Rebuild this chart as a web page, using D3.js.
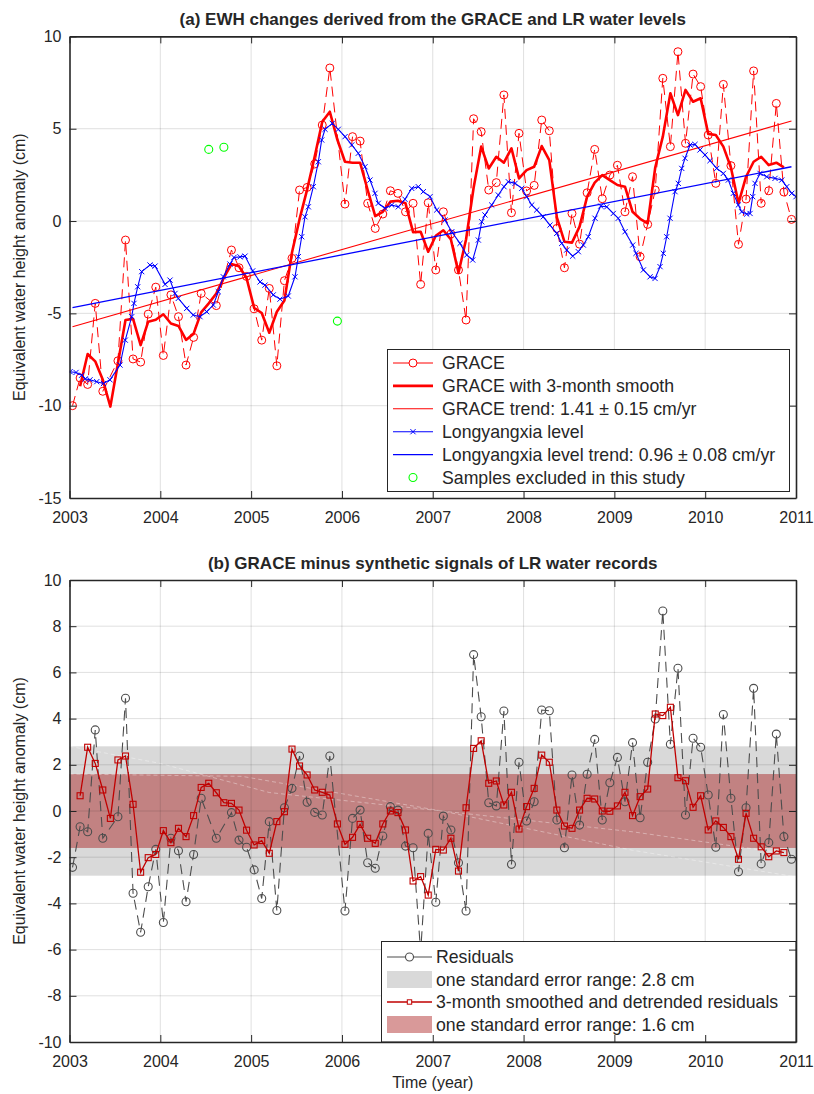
<!DOCTYPE html>
<html>
<head>
<meta charset="utf-8">
<script src="https://cdn.jsdelivr.net/npm/d3@7"></script>
<style>
  body { margin: 0; background: #fff; }
  svg text { font-family: "Liberation Sans", Arial, Helvetica, sans-serif; fill: #262626; }
</style>
</head>
<body>
<svg id="fig" width="814" height="1094"></svg>
<script>
// ---------- data ----------
const yearTicks = [2003, 2004, 2005, 2006, 2007, 2008, 2009, 2010, 2011];
const ewhTicks = [-15, -10, -5, 0, 5, 10];
const residTicks = [-10, -8, -6, -4, -2, 0, 2, 4, 6, 8, 10];

// monthly GRACE EWH (cm), month index counted from Jan 2003
const graceMonth = [0,1,2,3,4,6,7,8,9,10,11,12,13,14,15,16,17,19,21,22,23,24,25,26,27,28,29,30,31,32,33,34,
  36,37,38,39,40,41,42,43,44,45,46,47,48,49,50,51,52,53,54,55,56,57,58,59,60,61,62,63,64,65,66,67,68,69,70,71,
  72,73,74,75,76,77,78,79,80,81,82,83,84,85,86,87,88,89,90,91,92,93,94,95];
const graceEWH = [-10.0,-8.5,-8.85,-4.46,-9.22,-7.57,-1.03,-7.47,-7.64,-5.04,-3.58,-7.28,-4.0,-5.18,-7.8,-6.3,-3.92,-4.58,
  -1.57,-2.53,-3.0,-4.75,-6.45,-3.65,-7.84,-3.23,-2.02,1.68,1.82,3.09,5.2,8.29,
  0.92,4.57,4.33,0.96,-0.4,0.38,1.64,1.5,0.5,0.96,-3.43,0.99,-2.65,0.5,-0.7,-2.65,-5.36,5.54,4.84,1.68,2.08,6.83,
  0.45,4.75,1.63,1.93,5.47,4.89,-0.4,-2.53,0.41,-1.25,1.53,3.88,1.21,2.49,
  3.02,0.5,2.4,-1.93,-0.18,1.68,7.73,4.03,9.17,4.21,7.96,7.28,4.66,2.04,7.4,3.0,-1.26,1.19,8.13,0.96,1.64,6.37,1.57,0.09];

// GRACE with 3-month smoothing, months 1..94
const smoothMonth = d3.range(1, 95);
const smoothEWH = [-8.95,-7.2,-7.6,-8.6,-10.05,-7.7,-5.36,-5.3,-6.72,-5.45,-5.35,-5.05,-5.55,-5.68,-6.44,-6.1,-4.95,-4.46,
  -3.92,-3.07,-2.33,-2.45,-3.1,-4.7,-4.98,-6.05,-4.91,-4.3,-1.7,0.1,1.7,3.5,5.38,5.92,4.4,3.21,3.16,3.16,1.68,0.27,
  0.5,1.05,1.1,0.96,-0.6,-0.58,-1.66,-0.8,-0.5,-1.0,-2.8,-1.0,1.8,4.03,2.85,3.48,3.16,3.94,2.31,2.76,2.94,4.06,3.3,
  0.2,-1.12,-1.17,-0.3,1.32,2.08,2.49,2.22,1.95,1.86,0.5,0.12,-0.13,2.9,4.57,6.92,5.74,7.1,6.46,6.65,4.72,4.66,4.03,
  2.9,0.96,2.4,3.21,3.48,3.03,3.16,2.91];

// GRACE months left out of the study
const excludedMonth = [18, 20, 35];
const excludedEWH = [3.88, 4.0, -5.42];

// linear trends (start/end of the GRACE period)
const trendYears = [2003.033, 2010.95];
const graceTrend = [-5.72, 5.42];
const lyxTrend = [-4.69, 2.94];

// Longyangxia reservoir level expressed as EWH (cm)
const lyxYear = [2003.006,2003.072,2003.134,2003.174,2003.226,2003.3,2003.374,2003.446,2003.556,2003.614,2003.685,2003.71,
  2003.751,2003.795,2003.886,2003.942,2004.052,2004.107,2004.162,2004.198,2004.291,2004.363,2004.437,2004.511,2004.584,
  2004.639,2004.694,2004.767,2004.811,2004.878,2004.933,2005.017,2005.098,2005.153,2005.244,2005.318,2005.409,2005.483,
  2005.52,2005.557,2005.593,2005.63,2005.685,2005.74,2005.777,2005.814,2005.894,2005.96,2006.034,2006.108,2006.18,
  2006.254,2006.309,2006.364,2006.4,2006.474,2006.548,2006.621,2006.694,2006.768,2006.841,2006.896,2006.97,2007.044,
  2007.135,2007.209,2007.3,2007.374,2007.44,2007.502,2007.539,2007.575,2007.649,2007.722,2007.785,2007.832,2007.906,
  2007.98,2008.035,2008.09,2008.145,2008.217,2008.291,2008.365,2008.42,2008.475,2008.541,2008.603,2008.658,2008.713,
  2008.787,2008.85,2008.916,2008.988,2009.043,2009.117,2009.202,2009.238,2009.319,2009.393,2009.448,2009.503,2009.539,
  2009.576,2009.613,2009.668,2009.704,2009.742,2009.778,2009.833,2009.888,2009.943,2009.998,2010.053,2010.127,2010.2,
  2010.255,2010.31,2010.365,2010.402,2010.457,2010.494,2010.523,2010.549,2010.604,2010.678,2010.769,2010.843,2010.898,
  2010.953,2011.0];
const lyxLevel = [-8.16,-8.2,-8.35,-8.55,-8.6,-8.7,-8.8,-8.6,-7.8,-6.45,-5.18,-4.46,
  -3.56,-2.74,-2.38,-2.44,-3.43,-3.2,-3.92,-4.19,-4.73,-5.09,-5.18,-4.91,-4.55,
  -3.83,-3.02,-2.33,-1.97,-1.94,-1.9,-2.7,-3.3,-3.47,-4.0,-4.23,-4.06,-3.02,
  -1.93,-0.85,0.23,0.77,1.86,3.21,4.39,4.97,5.29,4.97,4.57,4.12,3.67,
  2.94,2.22,1.5,0.96,0.69,0.87,0.77,1.18,1.77,1.86,1.59,1.32,0.6,
  0.05,-0.58,-1.21,-1.84,-2.11,-1.03,-0.04,0.33,0.87,1.41,1.86,2.13,2.04,
  1.77,1.32,0.87,0.6,0.23,-0.22,-0.67,-1.21,-1.57,-1.9,-1.66,-1.3,-0.85,
  0.15,0.81,0.77,0.41,0.15,-0.58,-1.3,-1.75,-2.65,-3.02,-3.11,-2.47,-1.75,
  -0.85,0.15,1.59,2.04,2.85,3.4,4.12,4.15,3.85,3.58,3.27,2.85,2.58,
  2.22,1.5,0.87,0.5,0.38,0.41,1.32,2.04,2.58,2.4,2.31,2.22,1.86,
  1.5,1.32];

// residuals: GRACE minus synthetic signal (cm)
const residMonth = [0,1,2,3,4,6,7,8,9,10,11,12,13,14,15,16,17,19,21,22,23,24,25,26,27,28,29,30,31,32,33,34,
  36,37,38,39,40,41,42,43,44,45,46,47,48,49,50,51,52,53,54,55,56,57,58,59,60,61,62,63,64,65,66,67,68,69,70,71,
  72,73,74,75,76,77,78,79,80,81,82,83,84,85,86,87,88,89,90,91,92,93,94,95];
const residual = [-2.44,-0.68,-0.9,3.51,-1.18,-0.25,4.88,-3.56,-5.25,-3.28,-1.66,-4.83,-1.18,-1.72,-3.93,-1.88,0.55,-1.18,
  -0.07,-1.26,-1.57,-2.55,-3.79,-0.46,-4.31,0.14,0.98,2.38,0.38,-0.06,-0.17,2.38,
  -4.33,-0.32,0.04,-2.24,-2.48,-1.08,0.19,0.04,-1.52,-1.59,-6.1,-0.97,-3.95,-0.22,-0.82,-2.24,-4.33,6.77,4.08,0.36,0.22,4.33,
  -2.31,2.11,-0.43,0.4,4.37,4.34,-0.39,-1.59,1.56,-0.61,1.59,3.1,-0.39,1.22,
  2.32,0.4,2.96,-0.29,2.11,3.98,8.66,2.89,6.18,-0.17,3.15,2.76,0.69,-1.57,4.18,0.55,-2.63,0.14,5.31,-2.29,-1.37,3.33,-1.11,-2.09];

// 3-month smoothed and detrended residuals, months 1..94
const detrMonth = d3.range(1, 95);
const detrResidual = [0.66,2.76,2.06,0.91,-0.32,2.21,2.38,0.29,-2.65,-2.02,-1.88,-0.85,-1.37,-0.75,-1.11,-0.2,1.02,1.2,
  0.79,0.36,0.33,0.04,-0.83,-1.47,-1.28,-1.83,-0.46,-0.03,2.68,1.95,1.56,0.91,0.81,0.69,-0.56,-1.44,-1.14,-0.58,-1.18,-1.4,
  -0.56,0.0,-0.07,-0.82,-3.03,-2.84,-3.64,-1.66,-1.69,-1.18,-2.6,0.14,2.71,3.04,1.2,1.3,0.26,0.81,-0.78,0.19,0.98,2.42,2.11,
  0.04,-0.65,-0.75,0.04,0.55,0.52,0.0,-0.01,0.22,0.81,-0.2,0.62,0.95,4.2,4.13,4.49,1.44,1.31,0.16,0.66,-0.82,-0.43,-0.71,
  -1.11,-2.09,-0.1,-1.18,-1.55,-1.98,-1.73,-1.8];

// one-standard-error ranges (cm)
const seResidual = 2.8;
const seDetrended = 1.6;

// faint pale guide traces across the error bands
const guideA = [[2003, 2.8], [2004, 2.06], [2005.2, 0.8], [2007.1, 0.0], [2009.2, -0.9], [2011, -1.9]];
const guideB = [[2003, 1.6], [2004.9, 1.5], [2007.1, 0.0], [2009.2, -1.7], [2011, -2.85]];

// ---------- layout ----------
const left = 69.5, right = 796;
const svg = d3.select('#fig');
const monthYear = m => 2003 + (m + 0.4) / 12;
const x = d3.scaleLinear().domain([2003, 2011]).range([left, right]);
const yA = d3.scaleLinear().domain([-15, 10]).range([498, 36.4]);
const yB = d3.scaleLinear().domain([-10, 10]).range([1042, 580]);

const AX = '#262626';
const zip = (a, b) => a.map((v, i) => ({ t: a[i], v: b[i] }));
const byMonth = (ms, vs) => ms.map((m, i) => ({ t: monthYear(m), v: vs[i] }));

function clip(id, y) {
  svg.append('clipPath').attr('id', id).append('rect')
    .attr('x', left).attr('y', y.range()[1])
    .attr('width', right - left).attr('height', y.range()[0] - y.range()[1]);
}
clip('clipA', yA); clip('clipB', yB);

function grid(g, y, ticks) {
  const [yb, yt] = y.range();
  g.append('g').selectAll('line').data(yearTicks.slice(1, -1)).join('line')
    .attr('x1', d => x(d)).attr('x2', d => x(d)).attr('y1', yt).attr('y2', yb)
    .attr('stroke', AX).attr('stroke-opacity', 0.14).attr('stroke-width', 1);
  g.append('g').selectAll('line').data(ticks.slice(1, -1)).join('line')
    .attr('x1', left).attr('x2', right).attr('y1', d => y(d)).attr('y2', d => y(d))
    .attr('stroke', AX).attr('stroke-opacity', 0.14).attr('stroke-width', 1);
}

function axes(g, y, ticks) {
  const [yb, yt] = y.range();
  const fmt = d => String(d);
  const gb = g.append('g').attr('transform', `translate(0,${yb})`)
    .call(d3.axisBottom(x).tickValues(yearTicks).tickFormat(fmt).tickSize(-7).tickSizeOuter(0).tickPadding(14));
  const gt = g.append('g').attr('transform', `translate(0,${yt})`)
    .call(d3.axisTop(x).tickValues(yearTicks).tickFormat('').tickSize(-7).tickSizeOuter(0));
  const gl = g.append('g').attr('transform', `translate(${left},0)`)
    .call(d3.axisLeft(y).tickValues(ticks).tickFormat(fmt).tickSize(-7).tickSizeOuter(0).tickPadding(8));
  const gr = g.append('g').attr('transform', `translate(${right},0)`)
    .call(d3.axisRight(y).tickValues(ticks).tickFormat('').tickSize(-7).tickSizeOuter(0));
  [gb, gt, gl, gr].forEach(a => {
    a.select('.domain').attr('stroke', AX).attr('stroke-width', 1.6);
    a.selectAll('.tick line').attr('stroke', AX).attr('stroke-width', 1);
    a.selectAll('.tick text').attr('fill', AX).style('font-size', '16px')
      .style('font-family', '"Liberation Sans", Arial, sans-serif');
  });
}

const xMark = 'M-2.6,-2.6L2.6,2.6M-2.6,2.6L2.6,-2.6';

// ================= panel (a) =================
const pa = svg.append('g');
grid(pa, yA, ewhTicks);
const da = pa.append('g').attr('clip-path', 'url(#clipA)');
const lineA = d3.line().x(d => x(d.t)).y(d => yA(d.v));

const grace = byMonth(graceMonth, graceEWH);
da.append('path').datum(grace).attr('d', lineA).attr('fill', 'none')
  .attr('stroke', '#ff0000').attr('stroke-width', 1).attr('stroke-dasharray', '10,6');
da.append('g').selectAll('circle').data(grace).join('circle')
  .attr('cx', d => x(d.t)).attr('cy', d => yA(d.v)).attr('r', 4)
  .attr('fill', 'none').attr('stroke', '#ff0000').attr('stroke-width', 1);

da.append('path').datum(byMonth(smoothMonth, smoothEWH)).attr('d', lineA).attr('fill', 'none')
  .attr('stroke', '#ff0000').attr('stroke-width', 2.6).attr('stroke-linejoin', 'round');

da.append('path').datum(zip(trendYears, graceTrend)).attr('d', lineA)
  .attr('stroke', '#ff0000').attr('stroke-width', 1.1).attr('fill', 'none');

const lyx = zip(lyxYear, lyxLevel);
da.append('path').datum(lyx).attr('d', lineA).attr('fill', 'none')
  .attr('stroke', '#0000ff').attr('stroke-width', 1.1);
da.append('g').selectAll('path').data(lyx).join('path')
  .attr('transform', d => `translate(${x(d.t)},${yA(d.v)})`).attr('d', xMark)
  .attr('stroke', '#0000ff').attr('stroke-width', 1).attr('fill', 'none');

da.append('path').datum(zip(trendYears, lyxTrend)).attr('d', lineA)
  .attr('stroke', '#0000ff').attr('stroke-width', 1.3).attr('fill', 'none');

da.append('g').selectAll('circle').data(byMonth(excludedMonth, excludedEWH)).join('circle')
  .attr('cx', d => x(d.t)).attr('cy', d => yA(d.v)).attr('r', 4)
  .attr('fill', 'none').attr('stroke', '#00ff00').attr('stroke-width', 1.1);

axes(pa, yA, ewhTicks);

pa.append('text').attr('x', (left + right) / 2).attr('y', 25).attr('text-anchor', 'middle')
  .style('font-size', '17px').style('font-weight', 'bold')
  .text('(a) EWH changes derived from the GRACE and LR water levels');
pa.append('text').attr('transform', `translate(25,${(yA.range()[0] + yA.range()[1]) / 2}) rotate(-90)`)
  .attr('text-anchor', 'middle').style('font-size', '16px')
  .text('Equivalent water height anomaly (cm)');

// legend (a)
const la = pa.append('g');
la.append('rect').attr('x', 387.5).attr('y', 349.5).attr('width', 402).attr('height', 142)
  .attr('fill', '#fff').attr('stroke', AX).attr('stroke-width', 1);
const legA = [
  { label: 'GRACE', kind: 'graceLine' },
  { label: 'GRACE with 3-month smooth', kind: 'thick' },
  { label: 'GRACE trend: 1.41 \u00B1 0.15 cm/yr', kind: 'redTrend' },
  { label: 'Longyangxia level', kind: 'lyx' },
  { label: 'Longyangxia level trend: 0.96 \u00B1 0.08 cm/yr', kind: 'blueTrend' },
  { label: 'Samples excluded in this study', kind: 'excluded' }
];
legA.forEach((e, i) => {
  const cy = 363 + i * 22.9;
  const g = la.append('g');
  const sx0 = 393, sx1 = 433, mx = 413;
  if (e.kind === 'graceLine') {
    g.append('line').attr('x1', sx0).attr('x2', sx1).attr('y1', cy).attr('y2', cy)
      .attr('stroke', '#ff0000').attr('stroke-width', 1);
    g.append('circle').attr('cx', mx).attr('cy', cy).attr('r', 4).attr('fill', '#fff')
      .attr('stroke', '#ff0000').attr('stroke-width', 1);
  } else if (e.kind === 'thick') {
    g.append('line').attr('x1', sx0).attr('x2', sx1).attr('y1', cy).attr('y2', cy)
      .attr('stroke', '#ff0000').attr('stroke-width', 2.6);
  } else if (e.kind === 'redTrend') {
    g.append('line').attr('x1', sx0).attr('x2', sx1).attr('y1', cy).attr('y2', cy)
      .attr('stroke', '#ff0000').attr('stroke-width', 1.1);
  } else if (e.kind === 'lyx') {
    g.append('line').attr('x1', sx0).attr('x2', sx1).attr('y1', cy).attr('y2', cy)
      .attr('stroke', '#0000ff').attr('stroke-width', 1.1);
    g.append('path').attr('transform', `translate(${mx},${cy})`).attr('d', xMark)
      .attr('stroke', '#0000ff').attr('stroke-width', 1);
  } else if (e.kind === 'blueTrend') {
    g.append('line').attr('x1', sx0).attr('x2', sx1).attr('y1', cy).attr('y2', cy)
      .attr('stroke', '#0000ff').attr('stroke-width', 1.3);
  } else {
    g.append('circle').attr('cx', mx).attr('cy', cy).attr('r', 4).attr('fill', 'none')
      .attr('stroke', '#00ff00').attr('stroke-width', 1.1);
  }
  g.append('text').attr('x', 442).attr('y', cy).attr('dy', '0.36em')
    .style('font-size', '17.7px').attr('fill', '#000').text(e.label);
});

// ================= panel (b) =================
const pb = svg.append('g');
const bands = pb.append('g');
bands.append('rect').attr('x', left).attr('width', right - left)
  .attr('y', yB(seResidual)).attr('height', yB(-seResidual) - yB(seResidual)).attr('fill', '#d9d9d9');
bands.append('rect').attr('x', left).attr('width', right - left)
  .attr('y', yB(seDetrended)).attr('height', yB(-seDetrended) - yB(seDetrended))
  .attr('fill', 'rgb(160,0,0)').attr('fill-opacity', 0.4);

const lineB = d3.line().x(d => x(d.t)).y(d => yB(d.v));
const guideLine = d3.line().x(d => x(d[0])).y(d => yB(d[1]));
[guideA, guideB].forEach(gd => {
  bands.append('path').datum(gd).attr('d', guideLine).attr('fill', 'none')
    .attr('stroke', '#fff').attr('stroke-opacity', 0.45).attr('stroke-width', 0.8)
    .attr('stroke-dasharray', '4,3');
});

grid(pb, yB, residTicks);
const db = pb.append('g').attr('clip-path', 'url(#clipB)');

const res = byMonth(residMonth, residual);
db.append('path').datum(res).attr('d', lineB).attr('fill', 'none')
  .attr('stroke', '#4d4d4d').attr('stroke-width', 1.1).attr('stroke-dasharray', '10,6');
db.append('g').selectAll('circle').data(res).join('circle')
  .attr('cx', d => x(d.t)).attr('cy', d => yB(d.v)).attr('r', 4)
  .attr('fill', 'none').attr('stroke', '#4d4d4d').attr('stroke-width', 1.1);

const detr = byMonth(detrMonth, detrResidual);
db.append('path').datum(detr).attr('d', lineB).attr('fill', 'none')
  .attr('stroke', '#c00000').attr('stroke-width', 1.3);
db.append('g').selectAll('rect').data(detr).join('rect')
  .attr('x', d => x(d.t) - 3).attr('y', d => yB(d.v) - 3).attr('width', 6).attr('height', 6)
  .attr('fill', 'none').attr('stroke', '#c00000').attr('stroke-width', 1.1);

// legend (b)
const lb = pb.append('g');
lb.append('rect').attr('x', 381.5).attr('y', 941.5).attr('width', right - 381.5).attr('height', yB(-10) - 941.5)
  .attr('fill', '#fff').attr('stroke', AX).attr('stroke-width', 1);
const legB = [
  { label: 'Residuals', kind: 'resid' },
  { label: 'one standard error range: 2.8 cm', kind: 'grayPatch' },
  { label: '3-month smoothed and detrended residuals', kind: 'detr' },
  { label: 'one standard error range: 1.6 cm', kind: 'redPatch' }
];
legB.forEach((e, i) => {
  const cy = 957 + i * 22.5;
  const g = lb.append('g');
  const sx0 = 387, sx1 = 432, mx = 409.5;
  if (e.kind === 'resid') {
    g.append('line').attr('x1', sx0).attr('x2', sx1).attr('y1', cy).attr('y2', cy)
      .attr('stroke', '#4d4d4d').attr('stroke-width', 1.1);
    g.append('circle').attr('cx', mx).attr('cy', cy).attr('r', 4).attr('fill', '#fff')
      .attr('stroke', '#4d4d4d').attr('stroke-width', 1.1);
  } else if (e.kind === 'grayPatch') {
    g.append('rect').attr('x', sx0).attr('y', cy - 8.5).attr('width', sx1 - sx0).attr('height', 17)
      .attr('fill', '#d9d9d9');
  } else if (e.kind === 'detr') {
    g.append('line').attr('x1', sx0).attr('x2', sx1).attr('y1', cy).attr('y2', cy)
      .attr('stroke', '#c00000').attr('stroke-width', 1.3);
    g.append('rect').attr('x', mx - 2.2).attr('y', cy - 2.2).attr('width', 4.4).attr('height', 4.4)
      .attr('fill', '#fff').attr('stroke', '#c00000').attr('stroke-width', 1);
  } else {
    g.append('rect').attr('x', sx0).attr('y', cy - 8.5).attr('width', sx1 - sx0).attr('height', 17)
      .attr('fill', 'rgb(160,0,0)').attr('fill-opacity', 0.4);
  }
  g.append('text').attr('x', 436).attr('y', cy).attr('dy', '0.36em')
    .style('font-size', '17.7px').attr('fill', '#000').text(e.label);
});

axes(pb, yB, residTicks);

pb.append('text').attr('x', (left + right) / 2).attr('y', 569).attr('text-anchor', 'middle')
  .style('font-size', '17px').style('font-weight', 'bold')
  .text('(b) GRACE minus synthetic signals of LR water records');
pb.append('text').attr('transform', `translate(25,${(yB.range()[0] + yB.range()[1]) / 2}) rotate(-90)`)
  .attr('text-anchor', 'middle').style('font-size', '16px')
  .text('Equivalent water height anomaly (cm)');
pb.append('text').attr('x', (left + right) / 2).attr('y', 1088).attr('text-anchor', 'middle')
  .style('font-size', '16px').text('Time (year)');
</script>
</body>
</html>
